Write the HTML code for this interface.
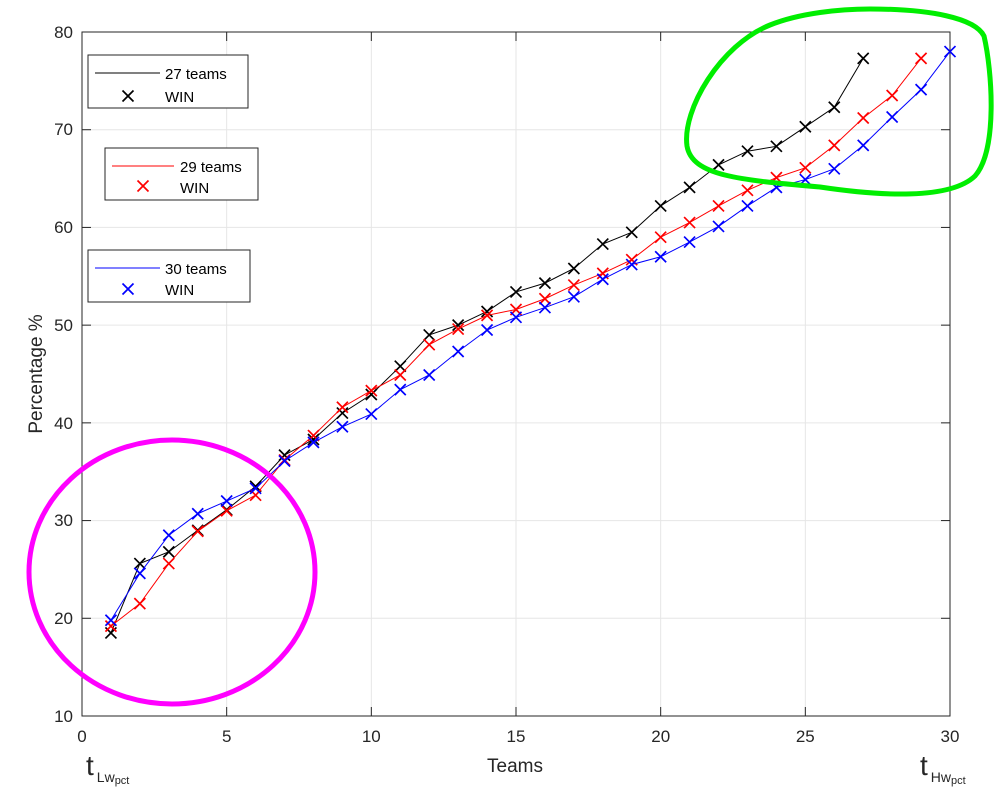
<!DOCTYPE html>
<html><head><meta charset="utf-8"><style>
body{margin:0;background:#fff}
svg{display:block;font-family:"Liberation Sans",sans-serif}
</style></head><body>
<svg id="s" width="1000" height="793" viewBox="0 0 1000 793">
<rect x="0" y="0" width="1000" height="793" fill="#fff"/>
<g id="grid" stroke="#e6e6e6" stroke-width="1"></g>
<rect x="82" y="32" width="868" height="684" fill="none" stroke="#262626" stroke-width="1"/>
<g id="ticks" stroke="#262626" stroke-width="1"></g>
<g font-size="17" fill="#262626" text-anchor="middle">
<text x="82" y="742">0</text><text x="226.7" y="742">5</text><text x="371.3" y="742">10</text><text x="516" y="742">15</text><text x="660.7" y="742">20</text><text x="805.3" y="742">25</text><text x="950" y="742">30</text>
</g>
<g font-size="17" fill="#262626" text-anchor="end">
<text x="73" y="722">10</text><text x="73" y="624">20</text><text x="73" y="526">30</text><text x="73" y="429">40</text><text x="73" y="331">50</text><text x="73" y="233">60</text><text x="73" y="135">70</text><text x="73" y="38">80</text>
</g>
<text x="515" y="772" font-size="19" fill="#262626" text-anchor="middle">Teams</text>
<text transform="translate(42,374) rotate(-90)" font-size="19" fill="#262626" text-anchor="middle">Percentage %</text>
<text x="86" y="775" font-size="28" fill="#262626">t<tspan font-size="14" dy="7" dx="3">Lw</tspan><tspan font-size="11" dy="2">pct</tspan></text>
<text x="920" y="775" font-size="28" fill="#262626">t<tspan font-size="14" dy="7" dx="3">Hw</tspan><tspan font-size="11" dy="2">pct</tspan></text>
<g id="series"></g>
<ellipse cx="172" cy="572" rx="143" ry="132" fill="none" stroke="#ff00ff" stroke-width="5"/>
<path d="M870,9 C930,9 975,18 984,36 C992,70 998,150 975,176 C950,200 880,196 820,187 C740,180 692,176 687,146 C682,110 720,45 770,25 C800,13 840,9 870,9 Z" fill="none" stroke="#00ee00" stroke-width="5"/>
<g font-size="15" fill="#000">
<rect x="88" y="55" width="160" height="53" fill="#fff" stroke="#262626"/>
<line x1="95" y1="73" x2="160" y2="73" stroke="#000"/>
<text x="165" y="79">27 teams</text>
<text x="165" y="102">WIN</text>
<rect x="105" y="148" width="153" height="52" fill="#fff" stroke="#262626"/>
<line x1="112" y1="166" x2="174" y2="166" stroke="#ff0000"/>
<text x="180" y="172">29 teams</text>
<text x="180" y="193">WIN</text>
<rect x="88" y="250" width="162" height="52" fill="#fff" stroke="#262626"/>
<line x1="95" y1="268" x2="160" y2="268" stroke="#0000ff"/>
<text x="165" y="274">30 teams</text>
<text x="165" y="295">WIN</text>
</g>
<g id="legm"></g>
</svg>
<script>
var NS="http://www.w3.org/2000/svg";
function X(v){return 82+v*868/30}
function Y(v){return 716-(v-10)*684/70}
function el(p,t,a){var e=document.createElementNS(NS,t);for(var k in a)e.setAttribute(k,a[k]);p.appendChild(e);return e}
var g=document.getElementById('grid'),tk=document.getElementById('ticks');
for(var i=5;i<30;i+=5){el(g,'line',{x1:X(i),x2:X(i),y1:32,y2:716});}
for(var v=20;v<80;v+=10){el(g,'line',{x1:82,x2:950,y1:Y(v),y2:Y(v)});}
for(var i=0;i<=30;i+=5){el(tk,'line',{x1:X(i),x2:X(i),y1:716,y2:707});el(tk,'line',{x1:X(i),x2:X(i),y1:32,y2:41});}
for(var v=10;v<=80;v+=10){el(tk,'line',{x1:82,x2:91,y1:Y(v),y2:Y(v)});el(tk,'line',{x1:950,x2:941,y1:Y(v),y2:Y(v)});}
var D={
"#000000":[18.5,25.6,26.8,29,31.1,33.5,36.7,38.3,41,42.9,45.8,49,50,51.4,53.4,54.3,55.8,58.3,59.5,62.2,64.1,66.4,67.8,68.3,70.3,72.3,77.3],
"#ff0000":[19.2,21.5,25.6,28.9,31,32.6,36.2,38.7,41.6,43.3,44.9,48,49.6,51,51.6,52.7,54.1,55.3,56.7,59,60.5,62.2,63.8,65.1,66.1,68.4,71.2,73.5,77.3],
"#0000ff":[19.8,24.6,28.5,30.7,32,33.3,36.1,38,39.6,40.9,43.4,44.9,47.3,49.5,50.8,51.8,52.9,54.7,56.2,57,58.5,60.1,62.2,64.1,64.9,66,68.4,71.3,74.1,78]};
var s=document.getElementById('series');
function mk(p,x,y,c){el(p,'path',{d:'M'+(x-5.5)+','+(y-5.5)+'L'+(x+5.5)+','+(y+5.5)+'M'+(x-5.5)+','+(y+5.5)+'L'+(x+5.5)+','+(y-5.5),stroke:c,'stroke-width':1.7,fill:'none'})}
for(var c in D){var pts=D[c].map(function(v,i){return X(i+1)+','+Y(v)}).join(' ');
el(s,'polyline',{points:pts,fill:'none',stroke:c,'stroke-width':1});
D[c].forEach(function(v,i){mk(s,X(i+1),Y(v),c)});}
var lm=document.getElementById('legm');
mk(lm,128,96,"#000000");mk(lm,143,186,"#ff0000");mk(lm,128,289,"#0000ff");
</script>
</body></html>
